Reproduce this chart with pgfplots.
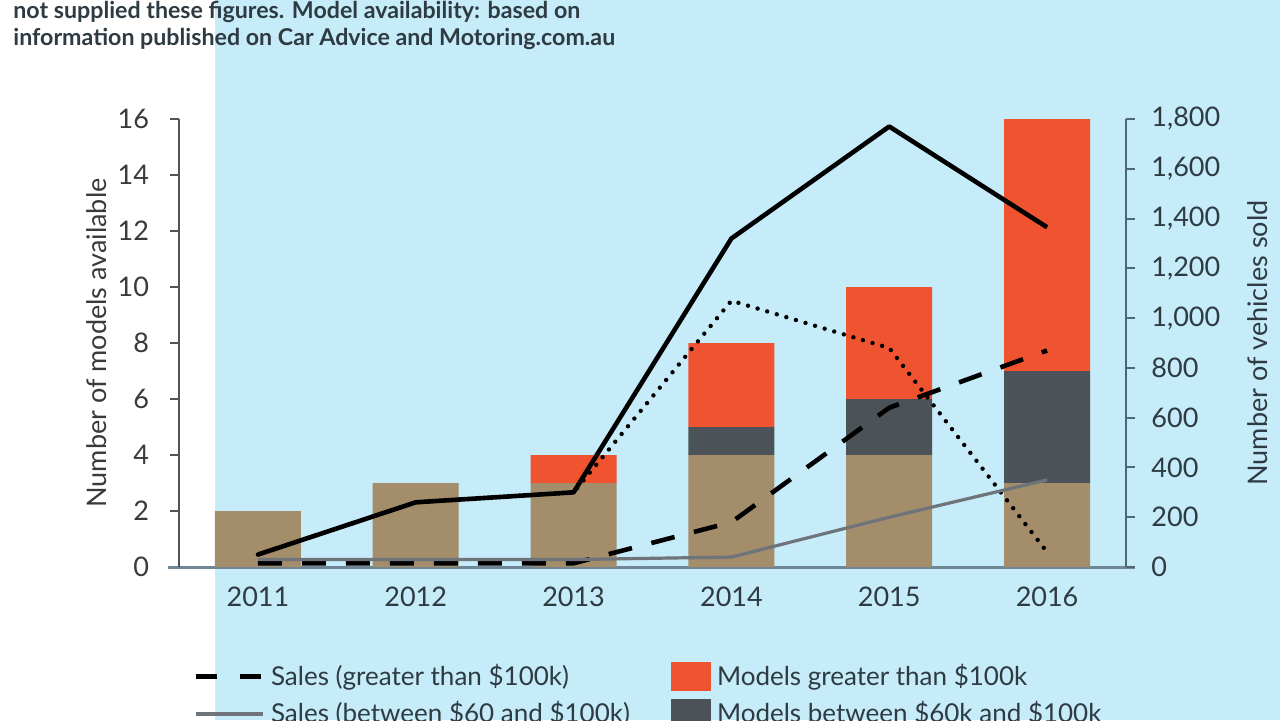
\documentclass[border=0pt]{standalone}
\usepackage{fontspec}
\setmainfont{Lato}
\usepackage{pgfplots}
\pgfplotsset{compat=1.18}
\definecolor{bgblue}{HTML}{C6EBF9}
\definecolor{tanc}{HTML}{A48D6B}
\definecolor{orng}{HTML}{F0532F}
\definecolor{dgray}{HTML}{4C5358}
\definecolor{lgray}{HTML}{6E7479}
\definecolor{axisx}{HTML}{6F8794}
\definecolor{leftc}{HTML}{505458}
\definecolor{rightc}{HTML}{4F6673}
\definecolor{txtc}{HTML}{2E3B42}
\definecolor{lefttxt}{HTML}{3A3A3A}
\pgfplotsset{
  lineleg/.style={legend image code/.code={\draw[##1] (0pt,0pt) -- (33.5pt,0pt);}},
  boxleg/.style={legend image code/.code={\path[##1] (0pt,-7.25pt) rectangle (20pt,7.25pt);}},
}
\begin{document}
\begin{tikzpicture}
\clip (0pt,0pt) rectangle (640pt,-360pt);
\fill[white] (0pt,0pt) rectangle (640pt,-360pt);
\fill[bgblue] (107.5pt,0pt) rectangle (640pt,-360pt);
\node[anchor=base west, inner sep=0pt, font=\bfseries\fontsize{11.6}{13}\selectfont, text=txtc] at (6.5pt,-9pt) {not supplied these figures. Model availability: based on};
\node[anchor=base west, inner sep=0pt, font=\bfseries\fontsize{11.6}{13}\selectfont, text=txtc] at (6.5pt,-22.5pt) {information published on Car Advice and Motoring.com.au};
\begin{axis}[
  at={(89.5pt,-283.5pt)}, anchor=south west,
  scale only axis, width=473.5pt, height=224pt,
  xmin=-0.5, xmax=5.5, ymin=0, ymax=16,
  axis x line*=bottom, axis y line*=left,
  x axis line style={draw=axisx, line width=1.5pt, shorten <=-5.5pt, shorten >=-4.5pt},
  y axis line style={draw=leftc, line width=1pt},
  xtick={0,1,2,3,4,5}, xticklabels={2011,2012,2013,2014,2015,2016},
  xtick style={draw=none},
  ytick={0,2,...,16},
  ytick style={draw=leftc, line width=1pt},
  tick align=outside, major tick length=4.5pt,
  /pgf/number format/assume math mode=true,
  xticklabel style={font=\fontsize{13.5}{16}\selectfont, text=txtc, yshift=-2pt},
  yticklabel style={font=\fontsize{13.5}{16}\selectfont, text=lefttxt, xshift=-7pt},
  ylabel={Number of models available},
  ylabel style={at={(axis description cs:-0.0866,0.5)}, anchor=center, font=\fontsize{13.5}{16}\selectfont, text=lefttxt},
  ybar stacked, bar width=43pt,
]
\addplot[fill=tanc, draw=none] coordinates {(0,2) (1,3) (2,3) (3,4) (4,4) (5,3)};
\addplot[fill=dgray, draw=none] coordinates {(0,0) (1,0) (2,0) (3,1) (4,2) (5,4)};
\addplot[fill=orng, draw=none] coordinates {(0,0) (1,0) (2,1) (3,3) (4,4) (5,9)};
\end{axis}
\begin{axis}[
  at={(89.5pt,-283.5pt)}, anchor=south west,
  scale only axis, width=473.5pt, height=224pt,
  xmin=-0.5, xmax=5.5, ymin=0, ymax=1800,
  axis x line=none, axis y line*=right,
  xtick=\empty,
  y axis line style={draw=rightc, line width=1.2pt},
  ytick={0,200,...,1800},
  ytick style={draw=rightc, line width=1pt},
  tick align=outside, major tick length=4.5pt,
  /pgf/number format/.cd, 1000 sep={,}, assume math mode=true, /pgfplots/.cd,
  yticklabel style={font=\fontsize{13.5}{16}\selectfont, text=txtc, xshift=4.7pt},
  ylabel={Number of vehicles sold},
  ylabel style={at={(axis description cs:1.139,0.5)}, anchor=center, font=\fontsize{13.5}{16}\selectfont, text=txtc},
  legend columns=2,
  legend style={draw=none, fill=none, at={(rel axis cs:0.0085,-0.198)}, anchor=north west,
    font=\fontsize{13}{16}\selectfont, text=txtc, row sep=2.5pt,
    /tikz/every odd column/.append style={column sep=1pt}},
  legend cell align=left,
]
\addplot[black, line width=2.3pt, line join=round, forget plot] coordinates {(0,50) (1,260) (2,300) (3,1320) (4,1770) (5,1365)};
\addplot[black, line width=2.2pt, line cap=round, dash pattern=on 0pt off 5pt, forget plot] coordinates {(0,50) (1,260) (2,300) (3,1070) (4,880) (5,60)};
\addplot[black, line width=2.3pt, dash pattern=on 12pt off 10pt, forget plot] coordinates {(0,15) (1,15) (2,15) (3,180) (4,640) (5,870)};
\addplot[lgray, line width=1.6pt, line join=round, forget plot] coordinates {(0,30) (1,30) (2,30) (3,40) (4,200) (5,350)};
\addlegendimage{black, line width=2.3pt, dash pattern=on 10.5pt off 11.5pt, lineleg}
\addlegendentry{\makebox[198pt][l]{Sales (greater than \$100k)}}
\addlegendimage{fill=orng, draw=none, boxleg}
\addlegendentry{Models greater than \$100k}
\addlegendimage{lgray, line width=2pt, lineleg}
\addlegendentry{\makebox[198pt][l]{Sales (between \$60 and \$100k)}}
\addlegendimage{fill=dgray, draw=none, boxleg}
\addlegendentry{Models between \$60k and \$100k}
\addlegendimage{black, line width=2.2pt, line cap=round, dash pattern=on 0pt off 5pt, lineleg}
\addlegendentry{\makebox[198pt][l]{Sales (less than \$60k)}}
\addlegendimage{fill=tanc, draw=none, boxleg}
\addlegendentry{Models less than \$60k}
\end{axis}
\end{tikzpicture}
\end{document}
